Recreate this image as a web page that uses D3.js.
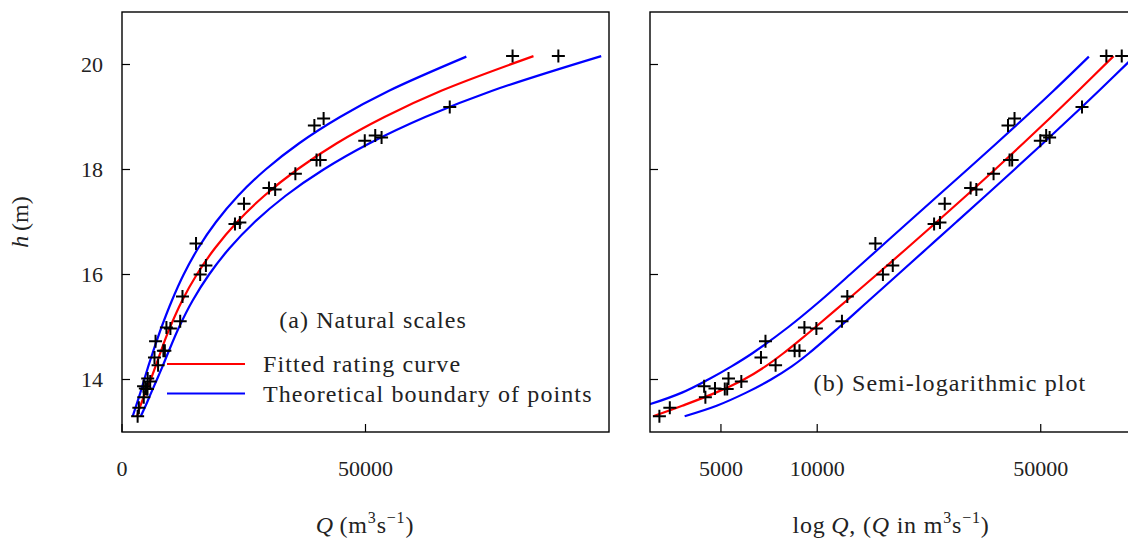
<!DOCTYPE html>
<html><head><meta charset="utf-8">
<script src="https://cdn.jsdelivr.net/npm/d3@7"></script>
<style>
html,body{margin:0;padding:0;background:#fff;}
svg text{font-family:"Liberation Serif","Times New Roman",serif;fill:#222;}
</style></head>
<body><svg id="c" width="1128" height="545"></svg>
<script>
// ---- data ----
const pointsQ = [3210,3460,4430,4470,4790,5140,5230,5280,5790,6670,6890,7410,8500,8800,9120,9940,11950,12420,15200,16050,17230,23200,24200,25050,30180,31450,35600,39950,40700,39500,41400,49850,52000,53300,67300,80200,89600];
const pointsH = [13.30,13.46,13.87,13.66,13.83,13.82,13.82,14.02,13.96,14.42,14.73,14.27,14.55,14.55,14.99,14.97,15.11,15.58,16.59,16.00,16.17,16.96,16.99,17.35,17.65,17.62,17.92,18.18,18.18,18.84,18.97,18.55,18.65,18.61,19.19,20.16,20.16];

const fittedH = [13.30,13.50,13.75,14.00,14.25,14.50,14.75,15.00,15.50,16.00,16.50,17.00,17.50,18.00,18.50,19.00,19.50,20.16];
const fittedQ = [3069,3784,4819,5895,6887,7840,8820,9886,12340,15360,19080,23640,29220,35980,44110,53890,65550,84490];

const upperH = [13.30,13.50,13.75,14.00,14.25,14.50,15.00,15.50,16.00,16.50,17.00,17.50,18.00,18.50,19.00,19.50,20.15];
const upperQ = [2198,2897,3776,4565,5395,6271,8128,10230,12660,15630,19300,23850,29490,36390,44770,54830,70710];

const lowerH = [13.30,13.50,13.75,14.00,14.25,14.50,15.00,15.50,16.00,16.50,17.00,17.50,18.00,18.50,19.00,19.50,20.16];
const lowerQ = [3850,4848,5998,7171,8327,9426,11730,14480,17880,22070,27240,33600,41390,50850,62260,76030,98400];

const hTicks = [14,16,18,20];
const linTicks = [0,50000];
const logTicks = [5000,10000,50000];

const legendLabels = ["Fitted rating curve","Theoretical boundary of points"];
const panelTitles = ["(a) Natural scales","(b) Semi-logarithmic plot"];

// ---- drawing ----
const svg = d3.select("#c");
const yTop = 12, yBot = 432;
const y = d3.scaleLinear().domain([13,21]).range([yBot, yTop]);
const xLin = d3.scaleLinear().domain([0,100000]).range([122,609]);
const xLog = d3.scaleLog().domain([3000,100000]).range([650,1137]);

const RED = "#ff0000", BLUE = "#0000ff";

function panel(x, id, xticks, fmt){
  const g = svg.append("g");
  const [x0,x1] = x.range();
  g.append("clipPath").attr("id",id).append("rect")
    .attr("x",x0).attr("y",yTop).attr("width",x1-x0).attr("height",yBot-yTop);
  const pl = g.append("g").attr("clip-path",`url(#${id})`);
  const line = (Q,H) => d3.line().x((d,i)=>x(Q[i])).y((d,i)=>y(H[i])).curve(d3.curveCatmullRom.alpha(0.5))(H);
  pl.append("path").attr("d",line(upperQ,upperH)).attr("fill","none").attr("stroke",BLUE).attr("stroke-width",2.2);
  pl.append("path").attr("d",line(lowerQ,lowerH)).attr("fill","none").attr("stroke",BLUE).attr("stroke-width",2.2);
  pl.append("path").attr("d",line(fittedQ,fittedH)).attr("fill","none").attr("stroke",RED).attr("stroke-width",2.2);
  pl.selectAll("path.pt").data(pointsQ).join("path").attr("class","pt")
    .attr("d",(d,i)=>`M${x(d)-6.5},${y(pointsH[i])}h13M${x(d)},${y(pointsH[i])-6.5}v13`)
    .attr("stroke","#000").attr("stroke-width",2).attr("fill","none");
  g.append("rect").attr("x",x0).attr("y",yTop).attr("width",x1-x0).attr("height",yBot-yTop)
    .attr("fill","none").attr("stroke","#000").attr("stroke-width",1.4);
  g.selectAll("line.yt").data(hTicks).join("line").attr("class","yt").attr("x1",x0).attr("x2",x0+8)
    .attr("y1",d=>y(d)).attr("y2",d=>y(d)).attr("stroke","#000").attr("stroke-width",1.2);
  g.selectAll("line.xt").data(xticks).join("line").attr("class","xt").attr("x1",d=>x(d)).attr("x2",d=>x(d))
    .attr("y1",yBot).attr("y2",yBot-8).attr("stroke","#000").attr("stroke-width",1.2);
  g.selectAll("text.xl").data(xticks).join("text").attr("class","xl").attr("x",d=>x(d)).attr("y",476)
    .attr("text-anchor","middle").attr("font-size",22).text(fmt);
  return g;
}

panel(xLin,"clipA",linTicks,d=>d3.format("d")(d));
panel(xLog,"clipB",logTicks,d=>d3.format("d")(d));

svg.selectAll("text.yl").data(hTicks).join("text").attr("class","yl").attr("x",103).attr("y",d=>y(d)+7.5)
  .attr("text-anchor","end").attr("font-size",22).text(d=>d);

svg.append("text").attr("x",373).attr("y",328).attr("text-anchor","middle")
  .attr("font-size",24).attr("letter-spacing",1.1).text(panelTitles[0]);
svg.append("text").attr("x",950).attr("y",391).attr("text-anchor","middle")
  .attr("font-size",24).attr("letter-spacing",1.1).text(panelTitles[1]);

const legColors = [RED, BLUE];
legendLabels.forEach((t,i)=>{
  const ly = 364 + i*29.5;
  svg.append("line").attr("x1",167).attr("x2",245).attr("y1",ly).attr("y2",ly)
    .attr("stroke",legColors[i]).attr("stroke-width",2.2);
  svg.append("text").attr("x",263).attr("y",ly+8).attr("font-size",24).attr("letter-spacing",1.1).text(t);
});

const xl1 = svg.append("text").attr("x",365).attr("y",533).attr("text-anchor","middle").attr("font-size",24).attr("letter-spacing",0.8);
xl1.append("tspan").attr("font-style","italic").text("Q");
xl1.append("tspan").text("\u2009(m");
xl1.append("tspan").attr("dy",-10).attr("font-size",16).text("3");
xl1.append("tspan").attr("dy",10).text("s");
xl1.append("tspan").attr("dy",-10).attr("font-size",16).text("\u22121");
xl1.append("tspan").attr("dy",10).text(")");

const xl2 = svg.append("text").attr("x",891).attr("y",533).attr("text-anchor","middle").attr("font-size",24).attr("letter-spacing",0.8);
xl2.append("tspan").text("log\u2009");
xl2.append("tspan").attr("font-style","italic").text("Q");
xl2.append("tspan").text(", (");
xl2.append("tspan").attr("font-style","italic").text("Q");
xl2.append("tspan").text(" in m");
xl2.append("tspan").attr("dy",-10).attr("font-size",16).text("3");
xl2.append("tspan").attr("dy",10).text("s");
xl2.append("tspan").attr("dy",-10).attr("font-size",16).text("\u22121");
xl2.append("tspan").attr("dy",10).text(")");

const yl = svg.append("text").attr("transform","translate(28,222) rotate(-90)").attr("text-anchor","middle").attr("font-size",24);
yl.append("tspan").attr("font-style","italic").text("h");
yl.append("tspan").text("\u2009(m)");
</script></body></html>
